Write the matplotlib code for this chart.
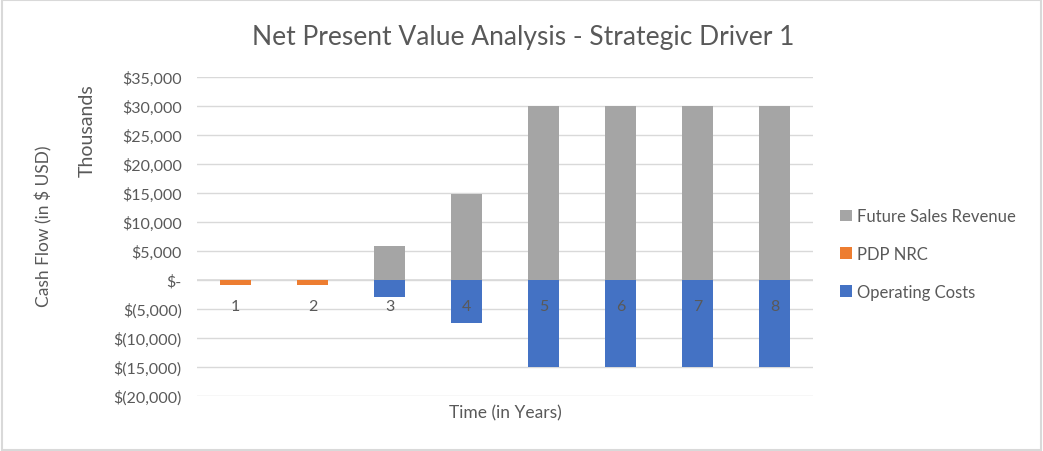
import matplotlib.pyplot as plt
from matplotlib.patches import Rectangle

# Data (in thousands of USD)
years = [1, 2, 3, 4, 5, 6, 7, 8]
future_sales_revenue = [0, 0, 5900, 14800, 30000, 30000, 30000, 30000]
pdp_nrc = [-800, -800, 0, 0, 0, 0, 0, 0]
operating_costs = [0, 0, -3000, -7400, -15000, -15000, -15000, -15000]

y_ticks = [35000, 30000, 25000, 20000, 15000, 10000, 5000, 0, -5000, -10000, -15000, -20000]
y_tick_labels = ["$35,000", "$30,000", "$25,000", "$20,000", "$15,000", "$10,000", "$5,000",
                 "$-", "$(5,000)", "$(10,000)", "$(15,000)", "$(20,000)"]

text_color = "#595959"
plt.rcParams['font.family'] = ['Lato', 'DejaVu Sans']

fig = plt.figure(figsize=(10.43, 4.52), dpi=100)
ax = fig.add_axes([0.189, 0.1217, 0.5905, 0.7057])

# border around the whole chart
fig.patches.append(Rectangle((0.002, 0.002), 0.996, 0.995, transform=fig.transFigure,
                             fill=False, edgecolor="#d9d9d9", linewidth=1.5))

x = list(range(len(years)))
w = 0.4
ax.bar(x, future_sales_revenue, w, color="#a5a5a5", label="Future Sales Revenue", zorder=2)
ax.bar(x, pdp_nrc, w, color="#ed7d31", label="PDP NRC", zorder=2)
ax.bar(x, operating_costs, w, color="#4472c4", label="Operating Costs", zorder=2)

ax.set_xlim(-0.5, len(years) - 0.5)
ax.set_ylim(-20000, 35000)
ax.set_yticks(y_ticks)
ax.set_yticklabels(y_tick_labels)
ax.set_xticks([])
ax.tick_params(axis='y', length=0, pad=11, labelsize=11.5, labelcolor=text_color)
ax.yaxis.grid(True, color="#d9d9d9", linewidth=1, zorder=0)
ax.set_axisbelow(True)
for s in ax.spines.values():
    s.set_visible(False)
ax.axhline(0, color="#d9d9d9", linewidth=1.2, zorder=1)

# category labels sit next to the zero line
for xi, yr in zip(x, years):
    ax.text(xi, -4400, str(yr), ha='center', va='center', fontsize=11.5,
            color=text_color, zorder=5)

fig.text(0.5015, 0.918, "Net Present Value Analysis - Strategic Driver 1", ha='center',
         va='center', fontsize=19, color=text_color)
ax.set_xlabel("Time (in Years)", fontsize=12.5, color=text_color, labelpad=6)
fig.text(0.042, 0.5, "Cash Flow (in $ USD)", rotation=90, ha='center', va='center',
         fontsize=12.5, color=text_color)
fig.text(0.084, 0.814, "Thousands", rotation=90, ha='center', va='top',
         fontsize=14, color=text_color)

ax.legend(loc='center left', bbox_to_anchor=(1.02, 0.445), frameon=False, fontsize=12,
          labelcolor=text_color, handlelength=0.7, handleheight=0.7, handletextpad=0.3,
          labelspacing=1.3)

fig.savefig("out.png", dpi=100)
